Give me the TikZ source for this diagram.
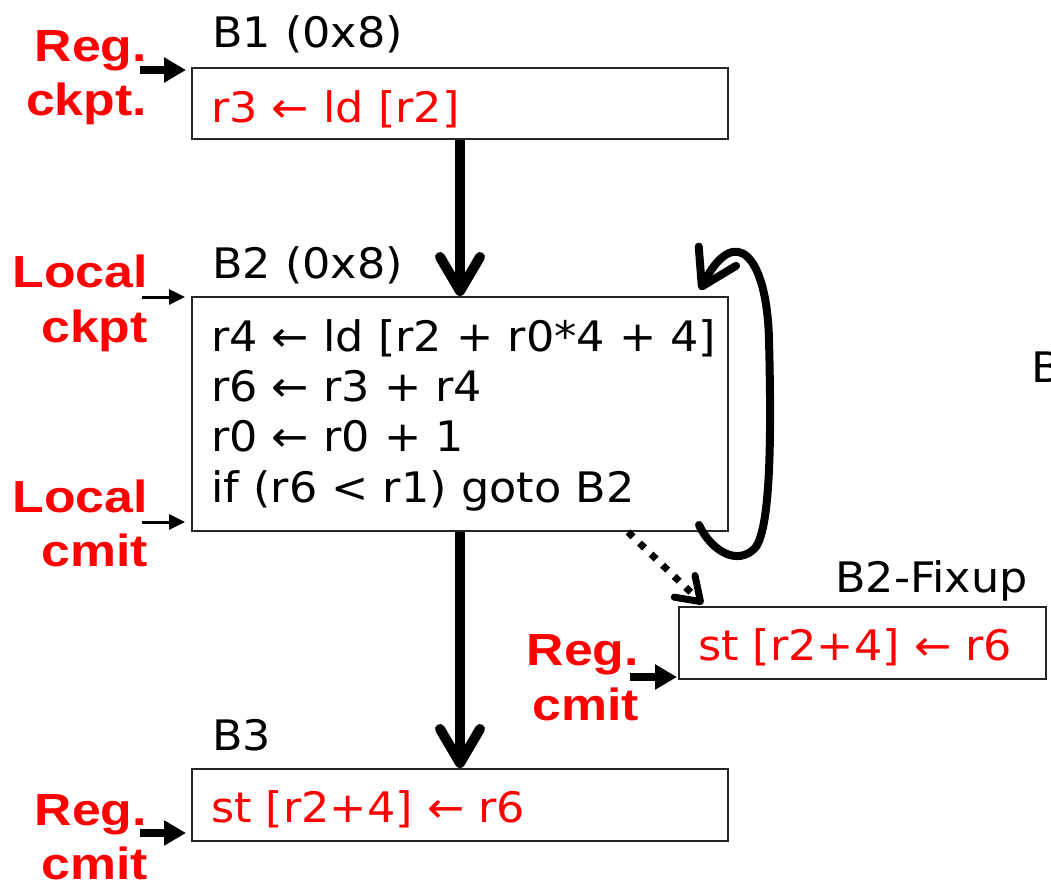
\documentclass[tikz,border=0pt]{standalone}
\usepackage{fontspec}
\setmainfont{DejaVu Sans}[FakeStretch=1.06]
\newfontfamily\lblfont{Liberation Sans}[FakeStretch=1.15]
\usetikzlibrary{arrows.meta,calc}
\definecolor{lblred}{RGB}{255,0,0}

\begin{document}
\begin{tikzpicture}[x=1pt,y=-1pt,
  code/.style={anchor=base west, inner sep=0pt, font=\fontsize{42}{50}\selectfont},
  redcode/.style={code, text=lblred},
  blk/.style={draw=black!85, line width=2pt, inner sep=0pt, anchor=north west},
  lbl/.style={anchor=base east, inner sep=0pt, text=lblred,
    font=\lblfont\bfseries\fontsize{45}{52}\selectfont},
  flow/.style={line width=10pt, -{Straight Barb[round,length=34pt,width=40pt]}},
  backflow/.style={line width=8pt, line cap=round,
    -{Straight Barb[round,length=34pt,width=42pt]}},
  fixflow/.style={line width=7pt, dash pattern=on 7pt off 9pt,
    -{Straight Barb[round,length=22pt,width=30pt]}},
  thickin/.style={line width=8pt, -{Triangle[length=22pt,width=24pt]}},
  thinin/.style={line width=3pt, -{Triangle[length=16pt,width=15pt]}}
]
\useasboundingbox (0,0) rectangle (1051,888);

% basic blocks
\node[blk, minimum width=536pt, minimum height=71pt] (b1) at (191,67) {};
\node[blk, minimum width=536pt, minimum height=234pt] (b2) at (191,296) {};
\node[blk, minimum width=536pt, minimum height=72pt] (b3) at (191,768) {};
\node[blk, minimum width=367pt, minimum height=72pt] (fix) at (678,606) {};

% block titles and instructions
\node[code] (t1) at (212,48) {B1 (0x8)};
\node[redcode] (c1) at (211,123) {r3 ← ld [r2]};
\node[code] (t2) at (212,278) {B2 (0x8)};
\node[code] (c2a) at (211,351) {r4 ← ld [r2 + r0*4 + 4]};
\node[code] (c2b) at (211,401) {r6 ← r3 + r4};
\node[code] (c2c) at (211,451) {r0 ← r0 + 1};
\node[code] (c2d) at (211,502) {if (r6 < r1) goto B2};
\node[code] (t3) at (212,750) {B3};
\node[redcode] (c3) at (211,822) {st [r2+4] ← r6};
\node[code] (t4) at (835,592) {B2-Fixup};
\node[redcode] (c4) at (698,660) {st [r2+4] ← r6};
\node[code] (t5) at (1031,382) {B};

% checkpoint / commit labels
\node[lbl] (l1a) at (147,62) {Reg.};
\node[lbl] (l1b) at (147,115) {ckpt.};
\node[lbl] (l2a) at (148,287) {Local};
\node[lbl] (l2b) at (148,342) {ckpt};
\node[lbl] (l3a) at (148,512) {Local};
\node[lbl] (l3b) at (148,566) {cmit};
\node[lbl] (l4a) at (639,665) {Reg.};
\node[lbl] (l4b) at (639,720) {cmit};
\node[lbl] (l5a) at (147,825) {Reg.};
\node[lbl] (l5b) at (148,879) {cmit};

% label pointers
\coordinate (p1) at (140,70);
\coordinate (p2) at (142,297);
\coordinate (p3) at (142,522);
\coordinate (p4) at (630,677);
\coordinate (p5) at (140,833);
\draw[thickin, shorten >=5pt] (p1) -- (p1 -| b1.west);
\draw[thinin, shorten >=6pt] (p2) -- (p2 -| b2.west);
\draw[thinin, shorten >=6pt] (p3) -- (p3 -| b2.west);
\draw[thickin, shorten >=1pt] (p4) -- (p4 -| fix.west);
\draw[thickin, shorten >=5pt] (p5) -- (p5 -| b3.west);

% control flow
\draw[flow] (b1.south) -- (b2.north);
\draw[flow] (b2.south) -- (b3.north);
\draw[backflow] ($(b2.south east)+(-30,-7)$)
  .. controls (712,552) and (738,566) .. (755,548)
  .. controls (772,528) and (771,420) .. (769,340)
  .. controls (767,255) and (735,222) .. ($(b2.north east)+(-29,-6)$);
\draw[fixflow] ($(b2.south west)+(437,0)$) -- ($(fix.north west)+(25,-2)$);
\end{tikzpicture}
\end{document}
